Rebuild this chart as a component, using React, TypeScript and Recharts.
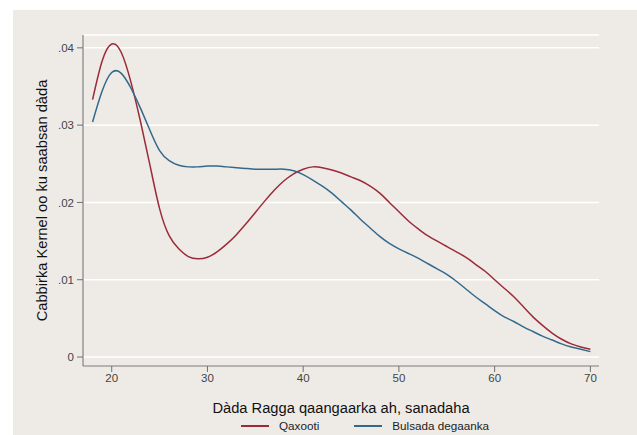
import React from "react";
import {
  LineChart,
  Line,
  XAxis,
  YAxis,
  CartesianGrid,
  Legend,
} from "recharts";

const ages = [
  18, 19, 20, 21, 22, 23, 24, 25, 26, 27, 28, 29, 30, 31, 32, 33, 34, 35, 36, 37, 38, 39, 40, 41, 42, 43, 44,
  45, 46, 47, 48, 49, 50, 51, 52, 53, 54, 55, 56, 57, 58, 59, 60, 61, 62, 63, 64, 65, 66, 67, 68, 69, 70,
];

const qaxooti = [
  0.0333, 0.0383, 0.0405, 0.0394, 0.0356, 0.0305, 0.0248, 0.0192, 0.0157, 0.014, 0.013, 0.0127, 0.0129,
  0.0136, 0.0146, 0.0158, 0.0172, 0.0187, 0.0202, 0.0216, 0.0228, 0.0237, 0.0243, 0.0246, 0.0245, 0.0242,
  0.0238, 0.0233, 0.0228, 0.0221, 0.0212, 0.02, 0.0188, 0.0176, 0.0166, 0.0157, 0.015, 0.0143, 0.0136,
  0.0129, 0.012, 0.0111, 0.01, 0.0089, 0.0078, 0.0065, 0.0052, 0.0041, 0.0031, 0.0023, 0.0017, 0.0013,
  0.001,
];

const bulsada = [
  0.0304, 0.0344, 0.0368, 0.0367, 0.0348, 0.0322, 0.0293, 0.0267, 0.0254, 0.0248, 0.0246, 0.0246, 0.0247,
  0.0247, 0.0246, 0.0245, 0.0244, 0.0243, 0.0243, 0.0243, 0.0243, 0.0241, 0.0236, 0.0229, 0.0221, 0.0212,
  0.0201, 0.019, 0.0178, 0.0167, 0.0156, 0.0147, 0.014, 0.0134, 0.0128, 0.0121, 0.0114, 0.0107, 0.0098,
  0.0088, 0.0078, 0.0069, 0.006, 0.0052, 0.0046, 0.0039, 0.0033, 0.0027, 0.0022, 0.0017, 0.0013, 0.001,
  0.0007,
];

const xTicks = [20, 30, 40, 50, 60, 70];
const yTicks = [0, 0.01, 0.02, 0.03, 0.04];

const RED = "#9b2b39";
const BLUE = "#33698c";
const BG = "#eeebe7";
const FONT = "'Liberation Sans', Arial, sans-serif";

const data = ages.map((age, i) => ({ age, qaxooti: qaxooti[i], bulsada: bulsada[i] }));

const legendItems = [
  { label: "Qaxooti", color: RED },
  { label: "Bulsada degaanka", color: BLUE },
];

function LegendContent() {
  return (
    <div style={{ display: "flex", alignItems: "center", paddingLeft: 241, height: 16, fontFamily: FONT }}>
      {legendItems.map((item, i) => (
        <div key={item.label} style={{ display: "flex", alignItems: "center", marginLeft: i === 0 ? 0 : 35 }}>
          <span style={{ display: "inline-block", width: 28, height: 1.5, background: item.color, marginRight: 10 }} />
          <span style={{ fontSize: 11.7, color: "#222", lineHeight: "16px" }}>{item.label}</span>
        </div>
      ))}
    </div>
  );
}

// rotated y title, centred on the plot height
function YTitle(props: any) {
  const vb = props.viewBox || { x: 33, y: 35, width: 50, height: 331 };
  const cx = vb.x + 9;
  const cy = vb.y + vb.height / 2;
  return (
    <text
      x={cx}
      y={cy}
      transform={`rotate(-90 ${cx} ${cy})`}
      textAnchor="middle"
      dominantBaseline="central"
      fill="#111"
      style={{ fontFamily: FONT, fontSize: "14.7px" }}
    >
      Cabbirka Kernel oo ku saabsan dàda
    </text>
  );
}

export default function App() {
  return (
    <div style={{ position: "absolute", left: 0, top: 0, width: 637, height: 435, background: "#fff" }}>
      <div style={{ position: "absolute", left: 13, top: 10, width: 624, height: 425, background: BG }} />
      <div style={{ position: "absolute", left: 0, top: 0 }}>
        <LineChart
          width={637}
          height={435}
          data={data}
          margin={{ top: 35, right: 38, left: 33, bottom: 21 }}
          style={{ fontFamily: FONT }}
        >
          <CartesianGrid horizontal vertical={false} stroke="#ffffff" strokeWidth={1.5} />
          <XAxis
            dataKey="age"
            type="number"
            domain={[17, 70.9]}
            ticks={xTicks}
            allowDataOverflow
            height={48}
            stroke="#6f6f6f"
            tickSize={6}
            tick={{ fontSize: 11.5, fill: "#444" }}
            label={{
              value: "Dàda Ragga qaangaarka ah, sanadaha",
              position: "insideBottom",
              offset: 1,
              style: { fontSize: 14.7, fill: "#111" },
            }}
          />
          <YAxis
            type="number"
            domain={[-0.00116, 0.04166]}
            ticks={yTicks}
            allowDataOverflow
            width={50}
            stroke="#6f6f6f"
            tickSize={6}
            tickMargin={3}
            tick={{ fontSize: 11.5, fill: "#444" }}
            tickFormatter={(v: number) => (v === 0 ? "0" : v.toFixed(2).replace(/^0/, ""))}
            label={{ content: (p: any) => <YTitle {...p} /> }}
          />
          <Legend
            verticalAlign="middle"
            align="center"
            layout="horizontal"
            wrapperStyle={{ top: 418, left: 0, width: 637 }}
            content={() => <LegendContent />}
          />
          <Line
            type="natural"
            dataKey="qaxooti"
            stroke={RED}
            strokeWidth={1.5}
            dot={false}
            isAnimationActive={false}
          />
          <Line
            type="natural"
            dataKey="bulsada"
            stroke={BLUE}
            strokeWidth={1.5}
            dot={false}
            isAnimationActive={false}
          />
        </LineChart>
      </div>
    </div>
  );
}
